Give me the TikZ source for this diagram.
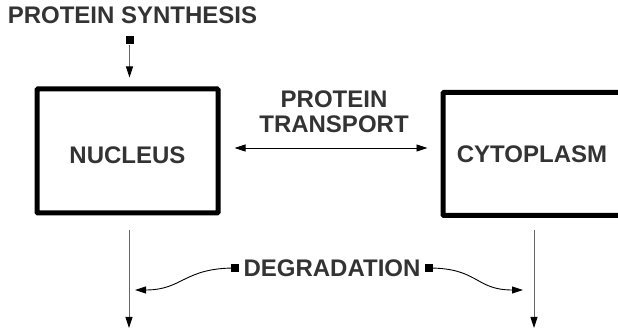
\documentclass[tikz,border=0pt]{standalone}
\usepackage{fontspec}
\setmainfont{Liberation Sans}
\usepackage{xcolor}
\usetikzlibrary{arrows.meta,positioning}
\definecolor{txtgray}{HTML}{333333}
\definecolor{shaftgray}{HTML}{666666}
\begin{document}
\begin{tikzpicture}[x=1pt,y=1pt,>={Triangle[length=11pt,width=7pt]}, every node/.style={font=\fontsize{24}{25}\selectfont\bfseries, text=txtgray}]
\tikzstyle{cell}=[draw=black, line width=5pt, inner sep=0pt, rounded corners=1pt]
\tikzstyle{dot}=[fill=black, minimum size=8pt, inner sep=0pt]
\tikzstyle{grayarrow}=[draw=shaftgray, line width=0.9pt, -{Triangle[length=11pt,width=7pt,color=black]}]
\useasboundingbox (0,0) rectangle (618,331);
\node (syn) at (132.5,316) {PROTEIN SYNTHESIS};
\node[dot] (synsq) at (129.5,290.5) {};
\node[cell, minimum width=181pt, minimum height=124pt, text height=25pt] (nuc) at (127.5,180) {NUCLEUS};
\node[cell, minimum width=178pt, minimum height=123pt] (cyt) at (532,177) {CYTOPLASM};
\node[align=center] (trans) at (334,219.5) {PROTEIN\\TRANSPORT};
\node (deg) at (332,63) {DEGRADATION};
\node[dot, left=0.5pt of deg] (degl) {};
\node[dot, right=0.5pt of deg] (degr) {};
\coordinate (nucout) at (129,101);
\coordinate (nucend) at (129,3);
\coordinate (cytout) at (534,101);
\coordinate (cytend) at (534,3);
\coordinate (degtipl) at (135,41);
\coordinate (degtipr) at (523,41);
\draw[grayarrow, shorten >=9pt] (synsq) -- (synsq |- nuc.north);
\draw[<->, line width=0.9pt] ([shift={(14,3)}]nuc.east) -- ([shift={(-13,6)}]cyt.west);
\draw[grayarrow] (nucout) -- (nucend);
\draw[grayarrow] (cytout) -- (cytend);
\draw[->, line width=0.9pt] (degl.center) .. controls +(-52,0) and +(48,0) .. (degtipl);
\draw[->, line width=0.9pt] (degr.center) .. controls +(50,0) and +(-48,0) .. (degtipr);
\end{tikzpicture}
\end{document}
